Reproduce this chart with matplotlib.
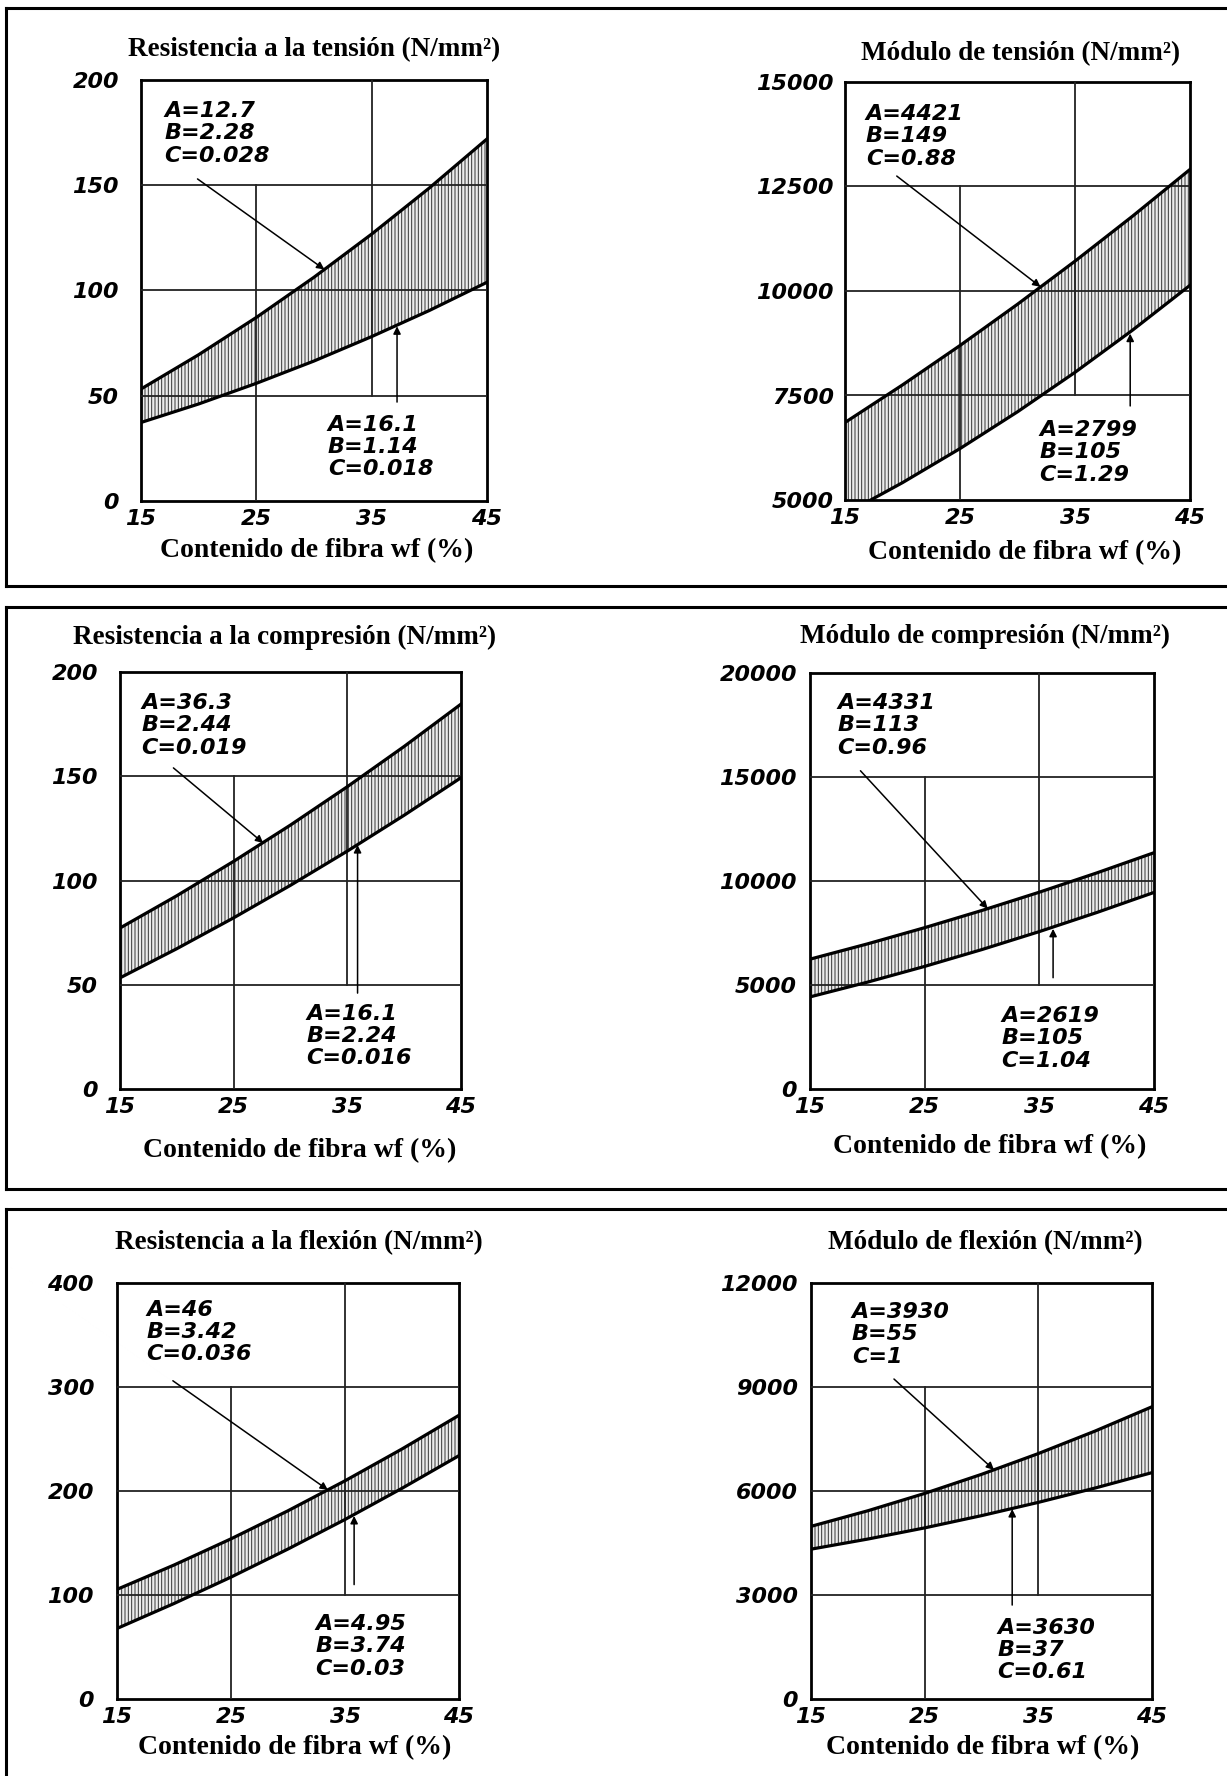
import matplotlib.pyplot as plt
from matplotlib.lines import Line2D

plt.rcParams['hatch.linewidth'] = 0.7
plt.rcParams['hatch.color'] = '#3a3a3a'

W, H = 1227, 1776

# fibre content (x) and band limits
wf = [15, 20, 25, 30, 35, 40, 45]

ten_str_hi = [53.2, 69.5, 87.2, 106.3, 126.8, 148.7, 172.0]
ten_str_lo = [37.3, 46.1, 55.9, 66.5, 78.1, 90.5, 103.9]
ten_mod_hi = [6854, 7753, 8696, 9683, 10714, 11789, 12908]
ten_mod_lo = [4664, 5415, 6230, 7110, 8054, 9063, 10136]
com_str_hi = [77.2, 92.7, 109.2, 126.6, 145.0, 164.3, 184.6]
com_str_lo = [53.3, 67.3, 82.1, 97.7, 114.1, 131.3, 149.3]
com_mod_hi = [6242, 6975, 7756, 8585, 9462, 10387, 11360]
com_mod_lo = [4428, 5135, 5894, 6705, 7568, 8483, 9450]
fle_str_hi = [105.4, 128.8, 154.0, 181.0, 209.8, 240.4, 272.8]
fle_str_lo = [67.8, 91.8, 117.2, 144.2, 172.6, 202.6, 234.0]
fle_mod_hi = [4980, 5430, 5930, 6480, 7080, 7730, 8430]
fle_mod_lo = [4322, 4614, 4936, 5289, 5672, 6086, 6530]

titles = ['Resistencia a la tensión (N/mm²)', 'Módulo de tensión (N/mm²)',
          'Resistencia a la compresión (N/mm²)', 'Módulo de compresión (N/mm²)',
          'Resistencia a la flexión (N/mm²)', 'Módulo de flexión (N/mm²)']
x_ticks = [15, 25, 35, 45]
y_ticks = [[0, 50, 100, 150, 200], [5000, 7500, 10000, 12500, 15000],
           [0, 50, 100, 150, 200], [0, 5000, 10000, 15000, 20000],
           [0, 100, 200, 300, 400], [0, 3000, 6000, 9000, 12000]]
upper_labels = ['A=12.7\nB=2.28\nC=0.028', 'A=4421\nB=149\nC=0.88',
                'A=36.3\nB=2.44\nC=0.019', 'A=4331\nB=113\nC=0.96',
                'A=46\nB=3.42\nC=0.036', 'A=3930\nB=55\nC=1']
lower_labels = ['A=16.1\nB=1.14\nC=0.018', 'A=2799\nB=105\nC=1.29',
                'A=16.1\nB=2.24\nC=0.016', 'A=2619\nB=105\nC=1.04',
                'A=4.95\nB=3.74\nC=0.03', 'A=3630\nB=37\nC=0.61']
bands = [(ten_str_hi, ten_str_lo), (ten_mod_hi, ten_mod_lo),
         (com_str_hi, com_str_lo), (com_mod_hi, com_mod_lo),
         (fle_str_hi, fle_str_lo), (fle_mod_hi, fle_mod_lo)]

# layout in pixels: axes box (l, t, r, b), title centre, xlabel centre
boxes = [(141, 80, 487, 501), (845, 82, 1190, 500),
         (120, 672, 461, 1089), (810, 673, 1154, 1089),
         (117, 1283, 459, 1699), (811, 1283, 1152, 1699)]
title_pos = [(314, 50), (1021, 54), (285, 637), (985, 636), (299, 1243), (985, 1243)]
xlab_pos = [(317, 551), (1025, 553), (300, 1151), (990, 1147), (295, 1748), (983, 1748)]
ypad = [22, 11, 22, 13, 23, 13]
# annotation placement (data coords)
up_text = [(17.0, 190), (16.8, 14480), (16.9, 190), (17.4, 19050), (17.6, 384), (18.6, 11450)]
up_arrow = [((19.9, 153), (30.9, 110)), ((19.5, 12750), (32.0, 10100)),
            ((19.7, 154), (27.6, 118)), ((19.4, 15300), (30.5, 8670)),
            ((19.9, 306), (33.5, 201)), ((22.3, 9230), (31.1, 6610))]
lo_text = [(31.2, 41), (31.9, 6920), (31.4, 41), (31.7, 4000), (32.4, 82), (31.4, 2350)]
lo_arrow = [((37.2, 47), (37.2, 83)), ((39.8, 7250), (39.8, 8980)),
            ((35.9, 46), (35.9, 117)), ((36.2, 5350), (36.2, 7700)),
            ((35.8, 110), (35.8, 176)), ((32.7, 2710), (32.7, 5480))]
# gridline extents: (x, ymin frac, ymax frac)
vgrid = [(25, 0, 0.75), (35, 0.25, 1)]

serif = 'Liberation Serif'
tick_font = dict(family='DejaVu Sans', style='italic', weight='bold', size=16)

fig = plt.figure(figsize=(W / 100, H / 100), dpi=100)

for i in range(6):
    l, t, r, b = boxes[i]
    ax = fig.add_axes([l / W, 1 - b / H, (r - l) / W, (b - t) / H])
    yt = y_ticks[i]
    ax.set_xlim(15, 45)
    ax.set_ylim(yt[0], yt[-1])
    hi, lo = bands[i]
    ax.fill_between(wf, lo, hi, facecolor='#ececec', edgecolor='#333333',
                    hatch='|||||', linewidth=0)
    ax.plot(wf, hi, color='black', lw=2.3, zorder=4)
    ax.plot(wf, lo, color='black', lw=2.3, zorder=4)
    for yv in yt[1:-1]:
        ax.axhline(yv, color='#222222', lw=1.3, zorder=3)
    for xv, y0, y1 in vgrid:
        ax.axvline(xv, y0, y1, color='#222222', lw=1.3, zorder=3)
    ax.set_xticks(x_ticks)
    ax.set_yticks(yt)
    ax.set_xticklabels([str(v) for v in x_ticks], fontdict=tick_font)
    ax.set_yticklabels([str(v) for v in yt], fontdict=tick_font)
    ax.tick_params(axis='y', length=0, pad=ypad[i] * 0.72)
    ax.tick_params(axis='x', length=0, pad=6)
    for sp in ax.spines.values():
        sp.set_linewidth(2)

    ax.text(*up_text[i], upper_labels[i], va='top', ha='left', linespacing=1.15,
            **tick_font)
    ax.text(*lo_text[i], lower_labels[i], va='top', ha='left', linespacing=1.15,
            **tick_font)
    for (s, e) in (up_arrow[i], lo_arrow[i]):
        ax.annotate('', xy=e, xytext=s,
                    arrowprops=dict(arrowstyle='-|>', color='black', lw=1.1,
                                    mutation_scale=11, shrinkA=0, shrinkB=0),
                    zorder=5)

    tx, ty = title_pos[i]
    fig.text(tx / W, 1 - ty / H, titles[i], ha='center', va='center',
             family=serif, weight='bold', size=19.5)
    lx, ly = xlab_pos[i]
    fig.text(lx / W, 1 - ly / H, 'Contenido de fibra wf (%)', ha='center',
             va='center', family=serif, weight='bold', size=20)

# the three outer frames
frame_tops = [8, 607, 1209]
frame_bots = [586, 1189, H + 5]
for ft, fb in zip(frame_tops, frame_bots):
    fig.add_artist(Line2D([6 / W, 1], [1 - ft / H] * 2, color='black', lw=2.2))
    fig.add_artist(Line2D([6 / W] * 2, [1 - ft / H, 1 - fb / H], color='black', lw=2.2))
    if fb < H:
        fig.add_artist(Line2D([6 / W, 1], [1 - fb / H] * 2, color='black', lw=2.2))

fig.savefig('out.png', dpi=100, facecolor='white')
